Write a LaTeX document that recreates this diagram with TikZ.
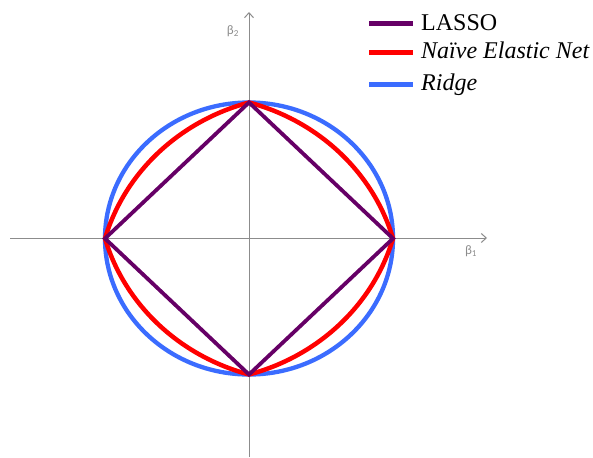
\documentclass[tikz,border=0pt]{standalone}
\usepackage{fontspec}
\setmainfont{Liberation Serif}
\newfontfamily\calfont{Carlito}
\usetikzlibrary{arrows.meta}
\definecolor{lassoc}{RGB}{102,0,102}
\definecolor{ridgec}{RGB}{59,108,255}
\definecolor{axisc}{RGB}{140,140,140}
\begin{document}
\begin{tikzpicture}[x=1pt,y=-1pt,
  axisline/.style={draw=axisc,line width=1pt,-{Straight Barb[length=5pt,width=9pt]}},
  axlabel/.style={text=axisc,font=\calfont\fontsize{13}{15}\selectfont,inner sep=0pt},
  lasso/.style={draw=lassoc,line width=3.8pt,line join=miter},
  enet/.style={draw=red,line width=4.5pt,line join=round},
  ridge/.style={draw=ridgec,line width=4.3pt},
  legtext/.style={anchor=base west,inner sep=0pt,font=\fontsize{24}{27}\selectfont}]
\useasboundingbox (0,0) rectangle (593,457);
% axes
\coordinate (xs) at (10,238);
\coordinate (xe) at (487,238);
\coordinate (ys) at (249,457);
\coordinate (ye) at (249,12);
\draw[axisline] (xs) -- (xe);
\draw[axisline] (ys) -- (ye);
\node[axlabel] (b1) at (471,251) {β\textsubscript{1}};
\node[axlabel] (b2) at (233,31) {β\textsubscript{2}};
% shapes
\coordinate (O) at (249,238.5);
\coordinate (L) at (105,238.5);
\coordinate (R) at (393,238.5);
\coordinate (T) at (249,102.5);
\coordinate (B) at (249,374.5);
\draw[ridge] (O) ellipse [x radius=144, y radius=136];
% elastic net: a(|x|+|y|) + (1-a)(x^2+y^2) = 1, a = 0.44
\draw[enet, shift={(O)}] plot[domain=0:360,samples=361,smooth]
  ({144*cos(\x)*(-0.44*(abs(cos(\x))+abs(sin(\x)))+sqrt(0.1936*(abs(cos(\x))+abs(sin(\x)))^2+2.24))/1.12},
   {136*sin(\x)*(-0.44*(abs(cos(\x))+abs(sin(\x)))+sqrt(0.1936*(abs(cos(\x))+abs(sin(\x)))^2+2.24))/1.12}) -- cycle;
\draw[lasso] (L) -- (T) -- (R) -- (B) -- cycle;
% legend
\coordinate (l1a) at (369,24); \coordinate (l1b) at (413,24);
\coordinate (l2a) at (369,53); \coordinate (l2b) at (413,53);
\coordinate (l3a) at (369,85); \coordinate (l3b) at (413,85);
\draw[lasso,line width=5pt] (l1a) -- (l1b);
\draw[enet,line width=5pt,line cap=butt] (l2a) -- (l2b);
\draw[ridge,line width=5pt] (l3a) -- (l3b);
\node[legtext] (t1) at (421,31) {LASSO};
\node[legtext] (t2) at (421,58.5) {\itshape Naïve Elastic Net};
\node[legtext] (t3) at (421,90.5) {\itshape Ridge};
\end{tikzpicture}
\end{document}
